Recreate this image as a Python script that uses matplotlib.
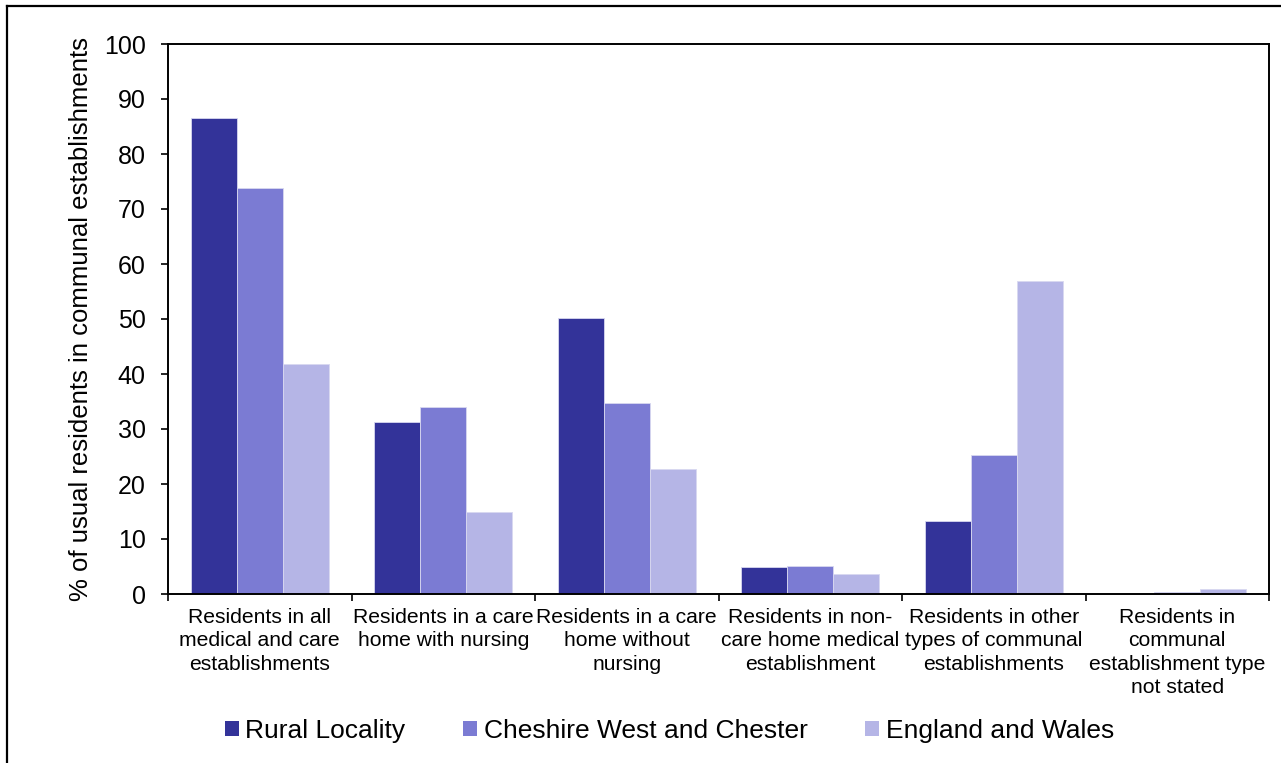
import matplotlib
matplotlib.use("Agg")
import matplotlib.pyplot as plt
import numpy as np
from matplotlib.lines import Line2D
from matplotlib.patches import Patch

plt.rcParams['font.family'] = ['Liberation Sans', 'DejaVu Sans']

categories = [
    "Residents in all\nmedical and care\nestablishments",
    "Residents in a care\nhome with nursing",
    "Residents in a care\nhome without\nnursing",
    "Residents in non-\ncare home medical\nestablishment",
    "Residents in other\ntypes of communal\nestablishments",
    "Residents in\ncommunal\nestablishment type\nnot stated",
]
series_names = ["Rural Locality", "Cheshire West and Chester", "England and Wales"]
rural = [86.5, 31.2, 50.1, 5.0, 13.3, 0.0]
cwac = [73.9, 34.0, 34.7, 5.1, 25.3, 0.4]
ew = [41.8, 15.0, 22.8, 3.7, 57.0, 1.0]
colors = ["#333399", "#7B7BD3", "#B5B5E6"]
yticks = [0, 10, 20, 30, 40, 50, 60, 70, 80, 90, 100]
ylabel = "% of usual residents in communal establishments"

W, H = 1281, 763
fig = plt.figure(figsize=(W / 100, H / 100), dpi=100)
ax = fig.add_axes([168 / W, 1 - 594 / H, (1269 - 168) / W, (594 - 44) / H])

n = len(categories)
x = np.arange(n)
bw = 0.25
for i, (vals, c) in enumerate(zip([rural, cwac, ew], colors)):
    ax.bar(x + 0.125 + i * bw, vals, width=bw, align='edge', color=c,
           edgecolor='#D8D8F0', linewidth=0.6, label=series_names[i], zorder=2)

ax.set_xlim(0, n)
ax.set_ylim(0, 100)
ax.set_yticks(yticks)
ax.set_yticklabels([str(t) for t in yticks], fontsize=18)
ax.set_xticks(np.arange(n + 1))
ax.set_xticklabels([])
ax.set_xticks(x + 0.5, minor=True)
ax.set_xticklabels(categories, minor=True, fontsize=15.2, linespacing=1.29)
ax.tick_params(axis='x', which='minor', length=0, pad=10)
ax.tick_params(axis='x', which='major', length=5, width=1.2, direction='out')
ax.tick_params(axis='y', length=5, width=1.2, direction='out', pad=11)
for s in ax.spines.values():
    s.set_linewidth(1.4)
    s.set_color('black')
ax.set_ylabel(ylabel, fontsize=18.5)
ax.yaxis.set_label_coords((93 - 168) / (1269 - 168), 0.5)

handles = [Patch(facecolor=c, edgecolor='none') for c in colors]
fig.legend(handles, series_names, loc='center', bbox_to_anchor=(669.5 / W, 1 - 731 / H),
           ncol=3, frameon=False, fontsize=19, handlelength=0.53, handleheight=0.53,
           handletextpad=0.23, columnspacing=2.2, borderpad=0, borderaxespad=0)

# outer chart frame (left and top visible)
fig.add_artist(Line2D([7 / W, 7 / W], [0, 1 - 6 / H], transform=fig.transFigure,
                      color='black', linewidth=1.6))
fig.add_artist(Line2D([7 / W, 1], [1 - 6 / H, 1 - 6 / H], transform=fig.transFigure,
                      color='black', linewidth=1.6))

fig.savefig("out.png", dpi=100)
